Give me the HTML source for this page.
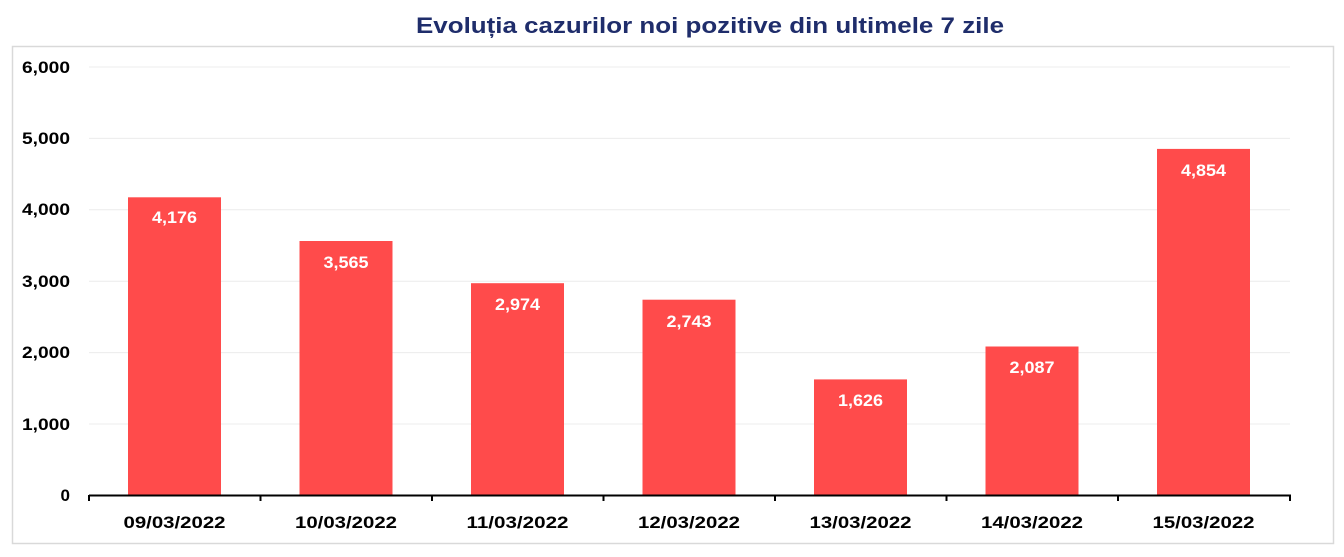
<!DOCTYPE html>
<html><head><meta charset="utf-8"><style>
html,body{margin:0;padding:0;background:#fff;}
svg{display:block;font-family:"Liberation Sans",Calibri,sans-serif;}
</style></head><body>
<svg width="1344" height="557" viewBox="0 0 1344 557" xmlns="http://www.w3.org/2000/svg">
<text x="710" y="33" text-anchor="middle" font-size="22" font-weight="bold" fill="#1f2d6b" textLength="588" lengthAdjust="spacingAndGlyphs">Evoluția cazurilor noi pozitive din ultimele 7 zile</text>
<rect x="12.5" y="46.5" width="1321" height="497" fill="none" stroke="#d9d9d9" stroke-width="1.5"/>
<g stroke="#ececec" stroke-width="1">
<line x1="89" x2="1290" y1="67" y2="67"/>
<line x1="89" x2="1290" y1="138.4" y2="138.4"/>
<line x1="89" x2="1290" y1="209.8" y2="209.8"/>
<line x1="89" x2="1290" y1="281.2" y2="281.2"/>
<line x1="89" x2="1290" y1="352.6" y2="352.6"/>
<line x1="89" x2="1290" y1="424" y2="424"/>
</g>
<g font-size="17" font-weight="bold" fill="#000" text-anchor="end">
<text x="70" y="73" textLength="48" lengthAdjust="spacingAndGlyphs">6,000</text>
<text x="70" y="144" textLength="48" lengthAdjust="spacingAndGlyphs">5,000</text>
<text x="70" y="215" textLength="48" lengthAdjust="spacingAndGlyphs">4,000</text>
<text x="70" y="287" textLength="48" lengthAdjust="spacingAndGlyphs">3,000</text>
<text x="70" y="358" textLength="48" lengthAdjust="spacingAndGlyphs">2,000</text>
<text x="70" y="430" textLength="48" lengthAdjust="spacingAndGlyphs">1,000</text>
<text x="70" y="501">0</text>
</g>
<g fill="#ff4b4b">
<rect x="128" y="197.3" width="93" height="298.2"/>
<rect x="299.5" y="241" width="93" height="254.5"/>
<rect x="471" y="283.2" width="93" height="212.3"/>
<rect x="642.5" y="299.7" width="93" height="195.8"/>
<rect x="814" y="379.4" width="93" height="116.1"/>
<rect x="985.5" y="346.5" width="93" height="149"/>
<rect x="1157" y="148.9" width="93" height="346.6"/>
</g>
<g font-size="17" font-weight="bold" fill="#fff" text-anchor="middle">
<text x="174.5" y="223" textLength="45" lengthAdjust="spacingAndGlyphs">4,176</text>
<text x="346" y="268" textLength="45" lengthAdjust="spacingAndGlyphs">3,565</text>
<text x="517.5" y="310" textLength="45" lengthAdjust="spacingAndGlyphs">2,974</text>
<text x="689" y="327" textLength="45" lengthAdjust="spacingAndGlyphs">2,743</text>
<text x="860.5" y="406" textLength="45" lengthAdjust="spacingAndGlyphs">1,626</text>
<text x="1032" y="373" textLength="45" lengthAdjust="spacingAndGlyphs">2,087</text>
<text x="1203.5" y="176" textLength="45" lengthAdjust="spacingAndGlyphs">4,854</text>
</g>
<g stroke="#000" stroke-width="2">
<line x1="89" x2="1291" y1="495.5" y2="495.5"/>
<line x1="89" x2="89" y1="495" y2="501"/>
<line x1="260.5" x2="260.5" y1="495" y2="501"/>
<line x1="432" x2="432" y1="495" y2="501"/>
<line x1="603.5" x2="603.5" y1="495" y2="501"/>
<line x1="775" x2="775" y1="495" y2="501"/>
<line x1="946.5" x2="946.5" y1="495" y2="501"/>
<line x1="1118" x2="1118" y1="495" y2="501"/>
<line x1="1290" x2="1290" y1="495" y2="501"/>
</g>
<g font-size="17" font-weight="bold" fill="#000" text-anchor="middle">
<text x="174.5" y="528" textLength="102" lengthAdjust="spacingAndGlyphs">09/03/2022</text>
<text x="346" y="528" textLength="102" lengthAdjust="spacingAndGlyphs">10/03/2022</text>
<text x="517.5" y="528" textLength="102" lengthAdjust="spacingAndGlyphs">11/03/2022</text>
<text x="689" y="528" textLength="102" lengthAdjust="spacingAndGlyphs">12/03/2022</text>
<text x="860.5" y="528" textLength="102" lengthAdjust="spacingAndGlyphs">13/03/2022</text>
<text x="1032" y="528" textLength="102" lengthAdjust="spacingAndGlyphs">14/03/2022</text>
<text x="1203.5" y="528" textLength="102" lengthAdjust="spacingAndGlyphs">15/03/2022</text>
</g>
</svg>
</body></html>
